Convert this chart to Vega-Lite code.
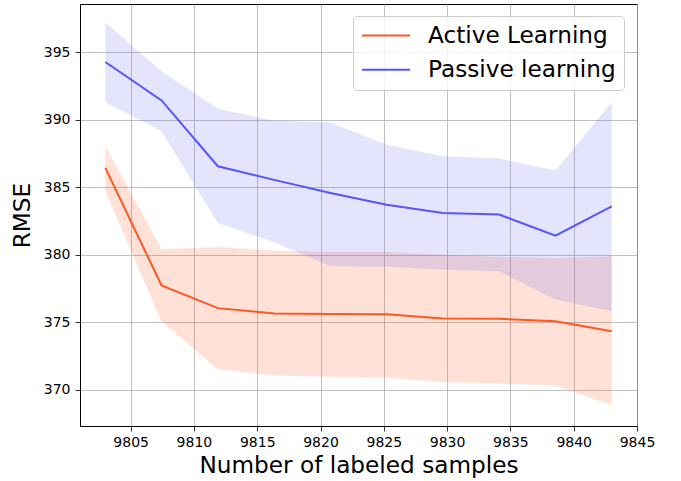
{
  "$schema": "https://vega.github.io/schema/vega-lite/v6.json",
  "width": 557,
  "height": 422,
  "autosize": {"type": "none"},
  "padding": {"left": 80, "top": 4, "right": 44, "bottom": 55},
  "background": "white",
  "config": {
    "font": "DejaVu Sans",
    "view": {"stroke": "black", "strokeWidth": 1},
    "axis": {
      "domainColor": "black",
      "domainWidth": 1,
      "tickColor": "black",
      "tickWidth": 0.8,
      "tickSize": 5,
      "labelFont": "DejaVu Sans",
      "labelFontSize": 14,
      "labelColor": "black",
      "titleFont": "DejaVu Sans",
      "titleFontSize": 23.2,
      "titleFontWeight": "normal",
      "titleColor": "black",
      "gridColor": "#b0b0b0",
      "gridWidth": 0.8,
      "gridOpacity": 1
    }
  },
  "data": {
    "values": [
      {"x": 9803, "series": "Active Learning", "mean": 386.44, "lo": 384.7, "hi": 388.04},
      {"x": 9807.44, "series": "Active Learning", "mean": 377.72, "lo": 375.07, "hi": 380.4},
      {"x": 9811.89, "series": "Active Learning", "mean": 376.04, "lo": 371.5, "hi": 380.58},
      {"x": 9816.33, "series": "Active Learning", "mean": 375.64, "lo": 371.05, "hi": 380.3},
      {"x": 9820.78, "series": "Active Learning", "mean": 375.6, "lo": 370.96, "hi": 380.2},
      {"x": 9825.22, "series": "Active Learning", "mean": 375.58, "lo": 370.88, "hi": 380.2},
      {"x": 9829.67, "series": "Active Learning", "mean": 375.27, "lo": 370.56, "hi": 380.0},
      {"x": 9834.11, "series": "Active Learning", "mean": 375.25, "lo": 370.46, "hi": 379.84},
      {"x": 9838.56, "series": "Active Learning", "mean": 375.07, "lo": 370.31, "hi": 379.74},
      {"x": 9843, "series": "Active Learning", "mean": 374.33, "lo": 368.85, "hi": 379.89},
      {"x": 9803, "series": "Passive learning", "mean": 394.29, "lo": 391.33, "hi": 397.22},
      {"x": 9807.44, "series": "Passive learning", "mean": 391.44, "lo": 389.15, "hi": 393.6},
      {"x": 9811.89, "series": "Passive learning", "mean": 386.56, "lo": 382.36, "hi": 390.83},
      {"x": 9816.33, "series": "Passive learning", "mean": 385.55, "lo": 380.93, "hi": 389.94},
      {"x": 9820.78, "series": "Passive learning", "mean": 384.58, "lo": 379.15, "hi": 389.8},
      {"x": 9825.22, "series": "Passive learning", "mean": 383.7, "lo": 379.1, "hi": 388.16},
      {"x": 9829.67, "series": "Passive learning", "mean": 383.1, "lo": 378.88, "hi": 387.3},
      {"x": 9834.11, "series": "Passive learning", "mean": 382.98, "lo": 378.78, "hi": 387.13},
      {"x": 9838.56, "series": "Passive learning", "mean": 381.42, "lo": 376.68, "hi": 386.24},
      {"x": 9843, "series": "Passive learning", "mean": 383.59, "lo": 375.8, "hi": 391.3}
    ]
  },
  "encoding": {
    "x": {
      "field": "x",
      "type": "quantitative",
      "scale": {"domain": [9801, 9845], "nice": false, "zero": false},
      "axis": {"title": "Number of labeled samples", "values": [9805, 9810, 9815, 9820, 9825, 9830, 9835, 9840, 9845], "format": "d", "labelPadding": 4, "titlePadding": 5, "labelFlush": false}
    }
  },
  "layer": [
    {
      "mark": {"type": "area", "fillOpacity": 0.18},
      "encoding": {
        "y": {
          "field": "lo",
          "type": "quantitative",
          "scale": {"domain": [367.3, 398.59], "nice": false, "zero": false},
          "axis": {"title": "RMSE", "values": [370, 375, 380, 385, 390, 395], "labelPadding": 5, "titlePadding": 9, "labelFlush": false}
        },
        "y2": {"field": "hi"},
        "fill": {
          "field": "series",
          "type": "nominal",
          "scale": {"domain": ["Active Learning", "Passive learning"], "range": ["#ff5722", "#6868ee"]},
          "legend": null
        }
      }
    },
    {
      "mark": {"type": "line", "strokeWidth": 2},
      "encoding": {
        "y": {"field": "mean", "type": "quantitative"},
        "stroke": {
          "field": "series",
          "type": "nominal",
          "scale": {"domain": ["Active Learning", "Passive learning"], "range": ["#ff5722", "#5555ff"]},
          "legend": {
            "title": null,
            "orient": "none",
            "legendX": 273,
            "legendY": 12,
            "labelFont": "DejaVu Sans",
            "labelFontSize": 23.2,
            "labelColor": "black",
            "labelLimit": 400,
            "symbolType": "stroke",
            "symbolSize": 2304,
            "symbolStrokeWidth": 2,
            "clipHeight": 23,
            "strokeColor": "#cccccc",
            "fillColor": "rgba(255,255,255,0.8)",
            "cornerRadius": 4,
            "padding": 8,
            "rowPadding": 10.3,
            "labelOffset": 17
          }
        }
      }
    }
  ],
  "resolve": {"scale": {"fill": "independent", "stroke": "independent"}, "legend": {"fill": "independent", "stroke": "independent"}}
}
